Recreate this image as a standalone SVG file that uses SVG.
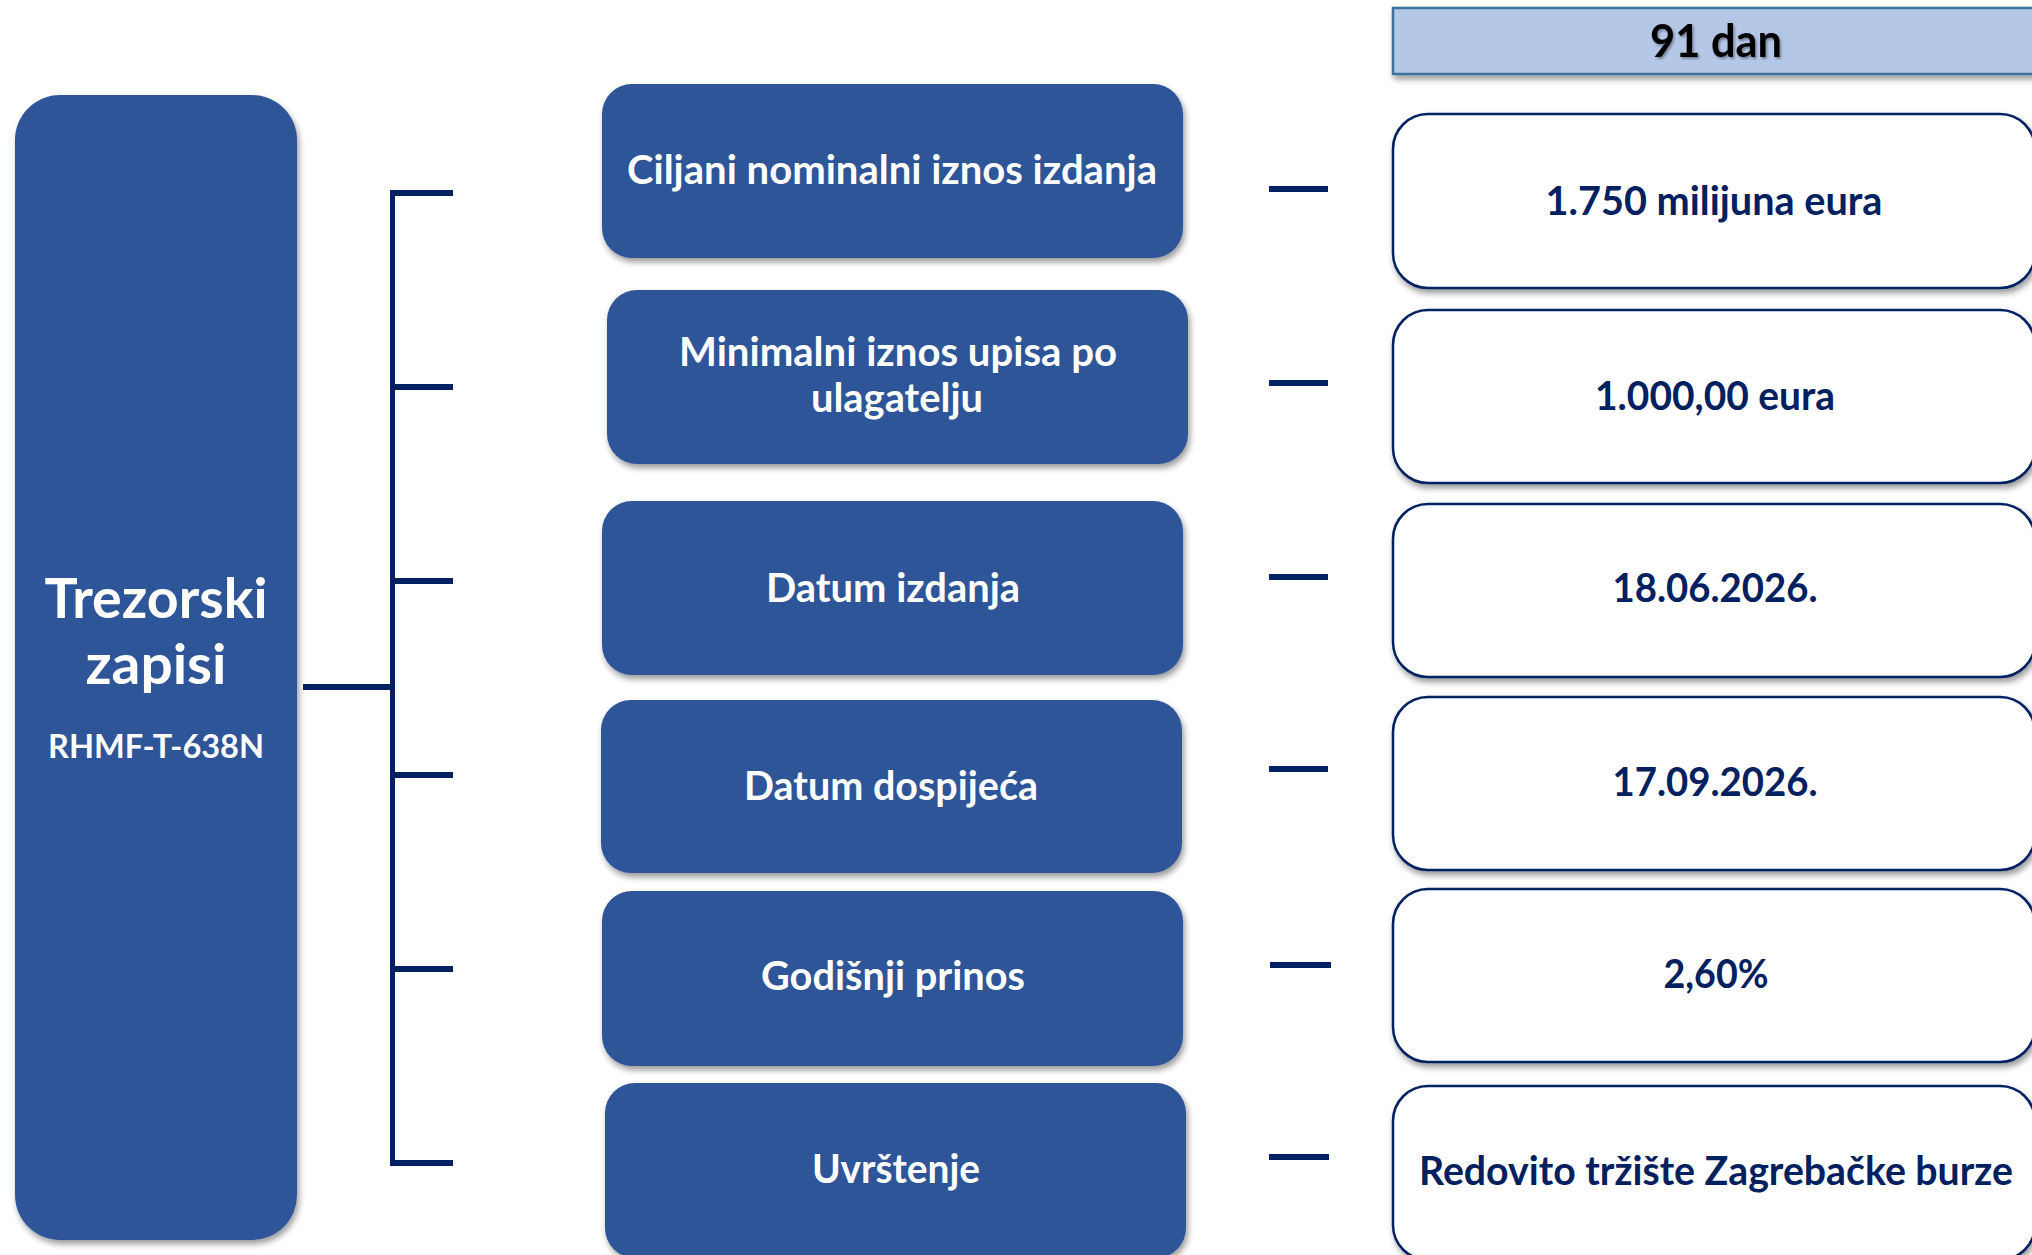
<svg xmlns="http://www.w3.org/2000/svg" width="2032" height="1255" viewBox="0 0 2032 1255">
<defs>
<filter id="sh" x="-10%" y="-10%" width="120%" height="130%">
<feDropShadow dx="2" dy="4" stdDeviation="3" flood-color="#000" flood-opacity="0.4"/>
</filter>
<filter id="tsh" x="-10%" y="-20%" width="130%" height="150%">
<feDropShadow dx="1.5" dy="2" stdDeviation="1.2" flood-color="#000" flood-opacity="0.35"/>
</filter>
<style>
.blue{fill:#2F5597;}
.val{fill:#FFFFFF;stroke:#002060;stroke-width:2.5;}
.hdr{fill:#B4C7E7;stroke:#41719C;stroke-width:2.5;}
.wt{fill:#FFFFFF;font-family:Lato,"Open Sans","Liberation Sans",sans-serif;font-weight:bold;text-anchor:middle;}
.nv{fill:#002060;font-family:Lato,"Open Sans","Liberation Sans",sans-serif;font-weight:bold;text-anchor:middle;font-size:41px;}
.lbl{font-size:41px;}
.ln{stroke:#002060;fill:none;}
</style>
</defs>
<rect width="2032" height="1255" fill="#FFFFFF"/>

<g id="connectors">
<line class="ln" x1="392.5" y1="190" x2="392.5" y2="1166" stroke-width="5"/>
<line class="ln" x1="390" y1="193" x2="453" y2="193" stroke-width="6"/>
<line class="ln" x1="390" y1="387" x2="453" y2="387" stroke-width="6"/>
<line class="ln" x1="390" y1="581" x2="453" y2="581" stroke-width="6"/>
<line class="ln" x1="390" y1="775" x2="453" y2="775" stroke-width="6"/>
<line class="ln" x1="390" y1="969" x2="453" y2="969" stroke-width="6"/>
<line class="ln" x1="390" y1="1163" x2="453" y2="1163" stroke-width="6"/>
<line class="ln" x1="303" y1="687" x2="392" y2="687" stroke-width="6"/>
<line class="ln" x1="1269" y1="189" x2="1328" y2="189" stroke-width="6"/>
<line class="ln" x1="1269" y1="383" x2="1328" y2="383" stroke-width="6"/>
<line class="ln" x1="1269" y1="577" x2="1328" y2="577" stroke-width="6"/>
<line class="ln" x1="1269" y1="769" x2="1328" y2="769" stroke-width="6"/>
<line class="ln" x1="1270" y1="965" x2="1331" y2="965" stroke-width="6"/>
<line class="ln" x1="1269" y1="1157" x2="1329" y2="1157" stroke-width="6"/>
</g>

<g id="node-root">
<rect class="blue" x="15" y="95" width="282" height="1145" rx="45" ry="45" filter="url(#sh)"/>
<text class="wt" x="156" y="618" font-size="56" textLength="223" lengthAdjust="spacingAndGlyphs">Trezorski</text>
<text class="wt" x="156" y="684" font-size="56" textLength="141" lengthAdjust="spacingAndGlyphs">zapisi</text>
<text class="wt" x="156" y="758" font-size="33" textLength="216" lengthAdjust="spacingAndGlyphs">RHMF-T-638N</text>
</g>

<g id="node-ciljani">
<rect class="blue" x="602" y="84" width="581" height="174" rx="30" ry="30" filter="url(#sh)"/>
<text class="wt lbl" x="892" y="184" textLength="530" lengthAdjust="spacingAndGlyphs">Ciljani nominalni iznos izdanja</text>
</g>
<g id="node-minimalni">
<rect class="blue" x="607" y="290" width="581" height="174" rx="30" ry="30" filter="url(#sh)"/>
<text class="wt lbl" x="898" y="366" textLength="438" lengthAdjust="spacingAndGlyphs">Minimalni iznos upisa po</text>
<text class="wt lbl" x="897" y="412" textLength="172" lengthAdjust="spacingAndGlyphs">ulagatelju</text>
</g>
<g id="node-datum-izdanja">
<rect class="blue" x="602" y="501" width="581" height="174" rx="30" ry="30" filter="url(#sh)"/>
<text class="wt lbl" x="893" y="602" textLength="254" lengthAdjust="spacingAndGlyphs">Datum izdanja</text>
</g>
<g id="node-datum-dospijeca">
<rect class="blue" x="601" y="700" width="581" height="173" rx="30" ry="30" filter="url(#sh)"/>
<text class="wt lbl" x="891" y="800" textLength="294" lengthAdjust="spacingAndGlyphs">Datum dospijeća</text>
</g>
<g id="node-godisnji">
<rect class="blue" x="602" y="891" width="581" height="175" rx="30" ry="30" filter="url(#sh)"/>
<text class="wt lbl" x="893" y="990" textLength="264" lengthAdjust="spacingAndGlyphs">Godišnji prinos</text>
</g>
<g id="node-uvrstenje">
<rect class="blue" x="605" y="1083" width="581" height="175" rx="30" ry="30" filter="url(#sh)"/>
<text class="wt lbl" x="896" y="1183" textLength="168" lengthAdjust="spacingAndGlyphs">Uvrštenje</text>
</g>

<g id="node-header">
<rect class="hdr" x="1393" y="8" width="645" height="66" filter="url(#sh)"/>
<text x="1716" y="57" font-family="Lato,'Open Sans','Liberation Sans',sans-serif" font-weight="bold" font-size="45" text-anchor="middle" fill="#000000" filter="url(#tsh)" textLength="132" lengthAdjust="spacingAndGlyphs">91 dan</text>
</g>

<g id="node-val1">
<rect class="val" x="1393" y="114" width="642" height="174" rx="35" ry="35" filter="url(#sh)"/>
<text class="nv" x="1714" y="215" textLength="337" lengthAdjust="spacingAndGlyphs">1.750 milijuna eura</text>
</g>
<g id="node-val2">
<rect class="val" x="1393" y="310" width="642" height="173" rx="35" ry="35" filter="url(#sh)"/>
<text class="nv" x="1715" y="410" textLength="240" lengthAdjust="spacingAndGlyphs">1.000,00 eura</text>
</g>
<g id="node-val3">
<rect class="val" x="1393" y="504" width="642" height="173" rx="35" ry="35" filter="url(#sh)"/>
<text class="nv" x="1715" y="602" textLength="205" lengthAdjust="spacingAndGlyphs">18.06.2026.</text>
</g>
<g id="node-val4">
<rect class="val" x="1393" y="697" width="642" height="173" rx="35" ry="35" filter="url(#sh)"/>
<text class="nv" x="1715" y="796" textLength="205" lengthAdjust="spacingAndGlyphs">17.09.2026.</text>
</g>
<g id="node-val5">
<rect class="val" x="1393" y="889" width="642" height="173" rx="35" ry="35" filter="url(#sh)"/>
<text class="nv" x="1716" y="988" textLength="105" lengthAdjust="spacingAndGlyphs">2,60%</text>
</g>
<g id="node-val6">
<rect class="val" x="1393" y="1086" width="642" height="174" rx="35" ry="35" filter="url(#sh)"/>
<text class="nv" x="1716" y="1185" textLength="594" lengthAdjust="spacingAndGlyphs">Redovito tržište Zagrebačke burze</text>
</g>
</svg>
